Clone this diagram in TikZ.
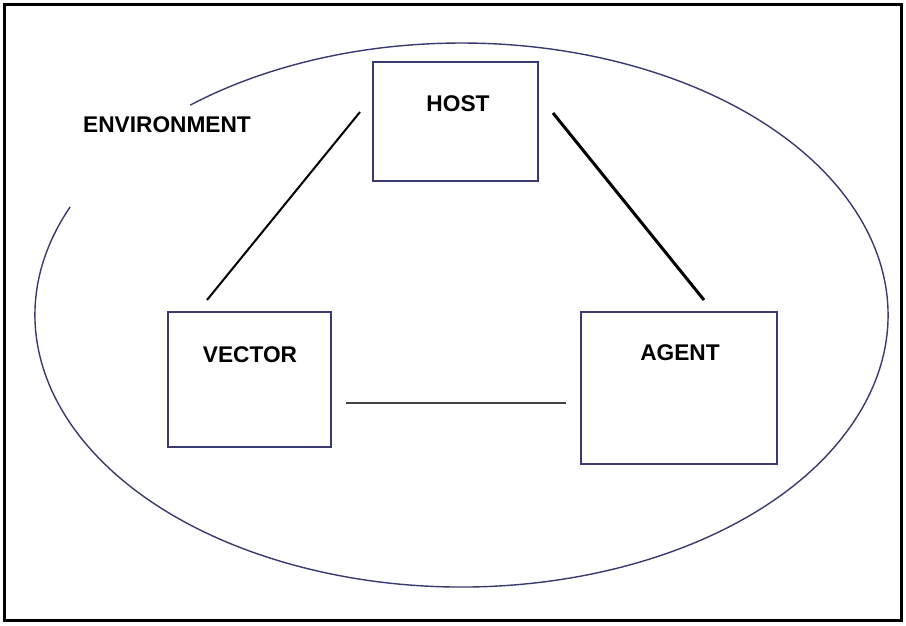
\documentclass[tikz,border=0pt]{standalone}
\usepackage{fontspec}
\setmainfont{Liberation Sans}
\begin{document}
\begin{tikzpicture}[x=1pt,y=1pt,
  boxnode/.style={draw=navyline, line width=1.4pt, rectangle, inner sep=0pt},
  lbl/.style={font=\fontsize{22.7}{26}\selectfont\bfseries, inner sep=0pt, text=black},
  link/.style={line width=2pt, black},
]
\definecolor{navyline}{HTML}{3A3A72}
\definecolor{greyline}{HTML}{444444}
\useasboundingbox (0,0) rectangle (906,625);
\fill[white] (0,0) rectangle (906,625);
% outer frame
\draw[line width=3pt, black] (4.5,5) rectangle (901,620.5);
% environment ellipse (open arc)
\coordinate (ec) at (461.5,310);
\draw[navyline, line width=1.4pt] (ec) ++(156.6:426.5 and 272)
  arc[start angle=156.6, end angle=489.5, x radius=426.5, y radius=272];
% boxes
\node[boxnode, minimum width=165pt, minimum height=119pt] (host) at (455.5,503.5) {};
\node[boxnode, minimum width=163pt, minimum height=135pt] (vector) at (249.5,245.5) {};
\node[boxnode, minimum width=196pt, minimum height=152pt] (agent) at (679,237) {};
% labels
\node[lbl] (hostl) at (458,521) {HOST};
\node[lbl] (vectorl) at (250,270) {VECTOR};
\node[lbl] (agentl) at (680,272) {AGENT};
\node[lbl] (envl) at (167,500) {ENVIRONMENT};
% connector end points
\coordinate (hv1) at (360,513);
\coordinate (hv2) at (207,325);
\coordinate (ha1) at (553,512);
\coordinate (ha2) at (704,325);
\coordinate (va1) at (346,222);
\coordinate (va2) at (566,222);
\draw[link] (hv1) -- (hv2);
\draw[link, line width=3pt] (ha1) -- (ha2);
\draw[greyline, line width=1.5pt] (va1) -- (va2);
\end{tikzpicture}
\end{document}
